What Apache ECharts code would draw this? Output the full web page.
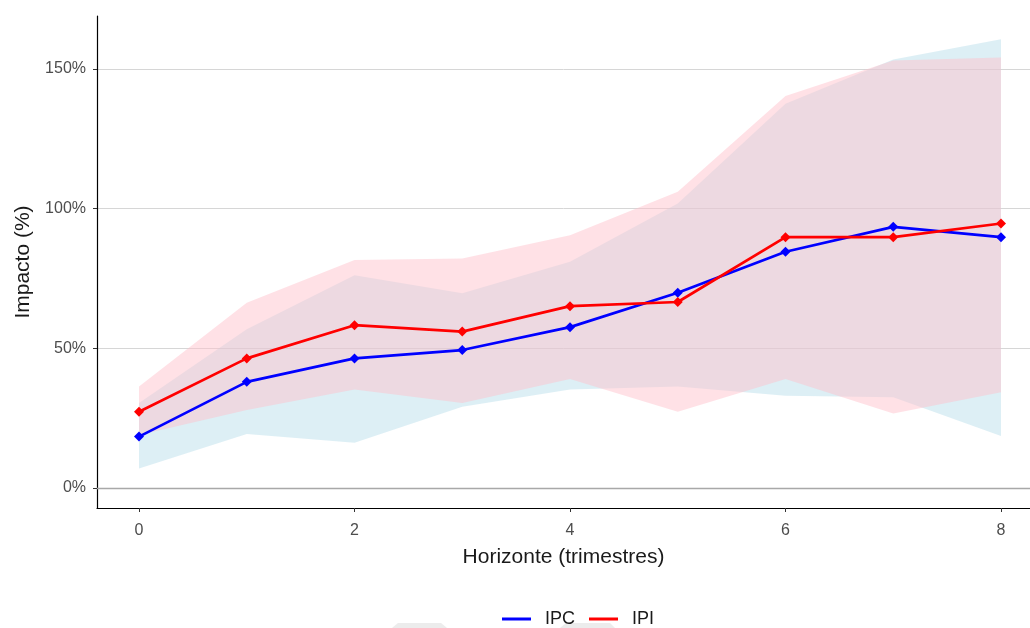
<!DOCTYPE html>
<html>
<head>
<meta charset="utf-8">
<script src="https://cdn.jsdelivr.net/npm/echarts@6/dist/echarts.min.js"></script>
<style>
  html, body { margin: 0; padding: 0; background: #ffffff; }
  #chart { width: 1030px; height: 628px; }
</style>
</head>
<body>
<div id="chart"></div>
<script>
// ---- Data ----
const horizon = [0, 1, 2, 3, 4, 5, 6, 7, 8];
const ipc      = [18.4, 38.0, 46.4, 49.4, 57.6, 69.9, 84.6, 93.5, 89.8];
const ipi      = [27.3, 46.4, 58.3, 56.0, 65.1, 66.6, 89.8, 89.8, 94.7];
const ipcLower = [7.0, 19.3, 16.2, 29.1, 35.3, 36.3, 33.0, 32.5, 18.6];
const ipcUpper = [30.4, 56.8, 76.2, 69.7, 81.0, 101.9, 137.6, 153.4, 160.7];
const ipiLower = [19.0, 27.9, 35.3, 30.4, 39.0, 27.3, 39.0, 26.7, 34.3];
const ipiUpper = [36.3, 66.3, 81.6, 82.2, 90.5, 106.1, 140.4, 153.1, 154.1];
const xTicks = [0, 2, 4, 6, 8];
const yTicks = [0, 50, 100, 150];
const seriesNames = ['IPC', 'IPI'];

const FONT = '"Liberation Sans", Arial, sans-serif';

function bandSeries(name, lower, upper, color) {
  return {
    name: name,
    type: 'custom',
    silent: true,
    clip: true,
    z: 1,
    data: horizon.map((h, i) => [h, lower[i], upper[i]]),
    encode: { x: 0, y: [1, 2] },
    renderItem: function (params, api) {
      if (params.dataIndex !== 0) return null;
      const pts = [];
      for (let i = 0; i < horizon.length; i++) pts.push(api.coord([horizon[i], upper[i]]));
      for (let i = horizon.length - 1; i >= 0; i--) pts.push(api.coord([horizon[i], lower[i]]));
      return {
        type: 'polygon',
        shape: { points: pts },
        style: { fill: color, stroke: null }
      };
    }
  };
}

function lineSeries(name, values, color) {
  return {
    name: name,
    type: 'line',
    z: 3,
    data: horizon.map((h, i) => [h, values[i]]),
    symbol: 'diamond',
    symbolSize: 10,
    showAllSymbol: true,
    itemStyle: { color: color },
    lineStyle: { color: color, width: 2.7 },
    emphasis: { disabled: true }
  };
}

const chart = echarts.init(document.getElementById('chart'), null, { renderer: 'canvas' });

const option = {
  animation: false,
  backgroundColor: '#ffffff',
  textStyle: { fontFamily: FONT },
  grid: { left: 97, top: 16, right: 0, height: 492 },
  xAxis: {
    type: 'value',
    min: -0.39,
    max: 8.269,
    name: 'Horizonte (trimestres)',
    nameLocation: 'middle',
    nameGap: 39,
    nameTextStyle: { fontSize: 21, color: '#1a1a1a', fontFamily: FONT },
    axisLine: { show: true, onZero: false, lineStyle: { color: '#000000', width: 1.2 } },
    axisTick: { show: true, length: 4, lineStyle: { color: '#333333' }, customValues: xTicks },
    axisLabel: { fontSize: 16, color: '#4d4d4d', margin: 15, customValues: xTicks, fontFamily: FONT },
    splitLine: { show: false }
  },
  yAxis: {
    type: 'value',
    min: -7.16,
    max: 169,
    name: 'Impacto (%)',
    nameLocation: 'middle',
    nameRotate: 90,
    nameGap: 63,
    nameTextStyle: { fontSize: 21, color: '#1a1a1a', fontFamily: FONT },
    axisLine: { show: true, onZero: false, lineStyle: { color: '#000000', width: 1.2 } },
    axisTick: { show: true, length: 4, lineStyle: { color: '#333333' }, customValues: yTicks },
    axisLabel: {
      fontSize: 16, color: '#4d4d4d', margin: 11, customValues: yTicks, fontFamily: FONT,
      formatter: v => v + '%'
    },
    splitLine: { show: true, lineStyle: { color: '#d6d6d6', width: 1 } }
  },
  legend: {
    data: seriesNames,
    bottom: -5,
    left: 497,
    itemWidth: 29,
    itemHeight: 3,
    itemGap: 14,
    icon: 'rect',
    textStyle: { fontSize: 18, color: '#1a1a1a', fontFamily: FONT, padding: [0, 0, 0, 9] }
  },
  graphic: [
    { type: 'polygon', silent: true, z: -1, shape: { points: [[392, 628], [398, 623], [441, 623], [447, 628]] }, style: { fill: '#ececec' } },
    { type: 'polygon', silent: true, z: -1, shape: { points: [[560, 628], [566, 623], [610, 623], [615, 628]] }, style: { fill: '#ececec' } }
  ],
  series: [
    bandSeries('IPC banda', ipcLower, ipcUpper, 'rgba(173,216,230,0.42)'),
    bandSeries('IPI banda', ipiLower, ipiUpper, 'rgba(255,192,203,0.48)'),
    {
      name: 'cero',
      type: 'line',
      data: [],
      silent: true,
      markLine: {
        silent: true,
        symbol: 'none',
        label: { show: false },
        lineStyle: { color: '#a8a8a8', width: 1.4, type: 'solid' },
        data: [{ yAxis: 0 }]
      }
    },
    lineSeries('IPC', ipc, '#0000ff'),
    lineSeries('IPI', ipi, '#ff0000')
  ]
};

chart.setOption(option);
</script>
</body>
</html>
